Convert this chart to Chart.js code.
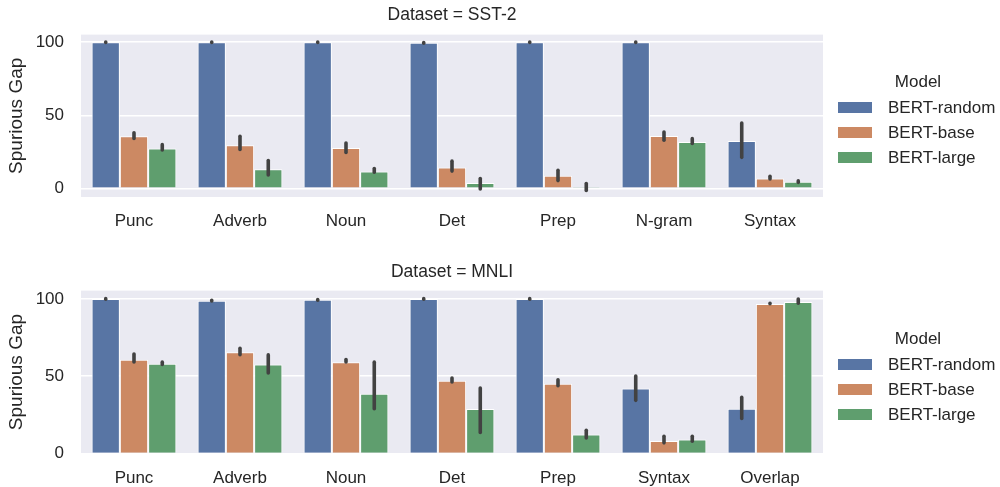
<!DOCTYPE html>
<html>
<head>
<meta charset="utf-8">
<script src="https://cdn.jsdelivr.net/npm/chart.js@4/dist/chart.umd.min.js"></script>
<style>
    body { margin: 0; background: #fff; }
    #wrap { position: relative; width: 1000px; height: 487px; font-family: 'Liberation Sans', Arial, sans-serif; color: #262626; }
    .panel { position: absolute; left: 0; width: 1000px; }
    .legend { position: absolute; left: 838px; font-size: 17px; line-height: 20px; }
    .legend-title { position: absolute; left: 55px; width: 50px; text-align: center; white-space: nowrap; }
    .legend-row { position: absolute; left: 0; white-space: nowrap; }
    .legend-row span { display: inline-block; width: 34px; height: 11px; margin-right: 16px; vertical-align: middle; }
    .legend-row b { font-weight: normal; vertical-align: middle; }
</style>
</head>
<body>
<div id="wrap">
    <div class="panel" style="top:0;height:245px"><canvas id="sst-chart" width="1000" height="245"></canvas></div>
    <div class="panel" style="top:245px;height:242px"><canvas id="mnli-chart" width="1000" height="242"></canvas></div>
    <div class="legend" id="sst-legend" style="top:72px"></div>
    <div class="legend" id="mnli-legend" style="top:329px"></div>
</div>
<script>
const models = ['BERT-random', 'BERT-base', 'BERT-large'];
const modelColors = ['#5875a4', '#cc8963', '#5f9e6e'];
const yTicks = [0, 50, 100];

// SST-2
const sstCategories = ['Punc', 'Adverb', 'Noun', 'Det', 'Prep', 'N-gram', 'Syntax'];
const sstRandom = [100, 100, 100, 99.6, 100, 100, 32.4];
const sstRandomLo = [99.8, 99.8, 99.8, 99.4, 99.8, 99.8, 21.2];
const sstRandomHi = [100.2, 100.2, 100.2, 99.8, 100.2, 100.2, 44.7];
const sstBase = [35.7, 29.5, 27.7, 14.3, 8.6, 35.9, 6.8];
const sstBaseLo = [34.1, 26.6, 24.6, 11.8, 5.3, 33, 6.4];
const sstBaseHi = [38.1, 35.6, 31, 18.6, 12.4, 38.5, 8.3];
const sstLarge = [27.3, 13, 11.6, 3.6, 0.9, 31.8, 4.5];
const sstLargeLo = [26.2, 9.1, 11, -0.4, -1.5, 30.7, 4.1];
const sstLargeHi = [29.9, 19, 13.5, 6.7, 3.3, 34, 5.1];

// MNLI
const mnliCategories = ['Punc', 'Adverb', 'Noun', 'Det', 'Prep', 'Syntax', 'Overlap'];
const mnliRandom = [100, 98.9, 99.4, 100, 100, 42.1, 29];
const mnliRandomLo = [99.8, 98.7, 99.2, 99.8, 99.8, 34.4, 22.6];
const mnliRandomHi = [100.2, 99.1, 99.6, 100.2, 100.2, 50.1, 36.3];
const mnliBase = [60.6, 65.5, 59.1, 47.1, 45.2, 8.1, 96.8];
const mnliBaseLo = [59.2, 63.9, 59.2, 46.3, 43.9, 6.9, 96.9];
const mnliBaseHi = [64.4, 68.1, 60.8, 48.8, 47.7, 11.2, 97.2];
const mnliLarge = [58.1, 57.6, 38.7, 28.8, 12.3, 9, 98.1];
const mnliLargeLo = [57.6, 52.1, 29, 13.6, 10.1, 7.9, 97.2];
const mnliLargeHi = [59.1, 63.8, 59.1, 42.3, 15, 11.2, 99.9];

Chart.defaults.font.family = "'Liberation Sans', Arial, sans-serif";
Chart.defaults.font.size = 17;
Chart.defaults.color = '#262626';

class SPURIOUSPANEL {
    constructor(canvasId, legendId, settings) {
        this.$canvas = document.getElementById(canvasId);
        this.$legend = document.getElementById(legendId);
        this.settings = settings;
        this.init();
    }

    init() {
        this.drawLegend();
        this.drawChart();
    }

    drawLegend() {
        let html = '<div class="legend-title" style="top:0">Model</div>';
        models.forEach((name, i) => {
            html += `<div class="legend-row" style="top:${25 + i * 25}px"><span style="background:${modelColors[i]}"></span><b>${name}</b></div>`;
        });
        this.$legend.innerHTML = html;
    }

    // grey axes background
    backgroundPlugin = {
        id: 'axesBackground',
        beforeDraw: (chart) => {
            const { ctx, chartArea } = chart;
            ctx.save();
            ctx.fillStyle = '#eaeaf2';
            ctx.fillRect(chartArea.left, chartArea.top, chartArea.right - chartArea.left, chartArea.bottom - chartArea.top);
            ctx.restore();
        }
    };

    // confidence interval lines on top of the bars
    errorBarPlugin = {
        id: 'errorBars',
        afterDatasetsDraw: (chart) => {
            const { ctx } = chart;
            const yScale = chart.scales.y;
            ctx.save();
            ctx.strokeStyle = '#424242';
            ctx.lineWidth = 3.6;
            ctx.lineCap = 'round';
            chart.data.datasets.forEach((ds, i) => {
                chart.getDatasetMeta(i).data.forEach((bar, j) => {
                    ctx.beginPath();
                    ctx.moveTo(bar.x, yScale.getPixelForValue(ds.errLo[j]));
                    ctx.lineTo(bar.x, yScale.getPixelForValue(ds.errHi[j]));
                    ctx.stroke();
                });
            });
            ctx.restore();
        }
    };

    drawChart() {
        const s = this.settings;
        new Chart(this.$canvas.getContext('2d'), {
            type: 'bar',
            data: {
                labels: s.categories,
                datasets: models.map((name, i) => ({
                    label: name,
                    data: s.values[i],
                    errLo: s.lo[i],
                    errHi: s.hi[i],
                    backgroundColor: modelColors[i],
                    borderColor: '#ffffff',
                    borderWidth: 1,
                    categoryPercentage: 0.8,
                    barPercentage: 1.0
                }))
            },
            options: {
                responsive: false,
                animation: false,
                layout: { padding: { left: 0, right: 177, top: 0, bottom: 0 } },
                plugins: {
                    legend: { display: false },
                    tooltip: { enabled: false },
                    title: {
                        display: true,
                        fullSize: false,
                        text: s.title,
                        color: '#262626',
                        font: { size: 17.5, weight: 'normal', lineHeight: 1.2 },
                        padding: s.titlePadding
                    }
                },
                scales: {
                    x: {
                        grid: { display: false, drawTicks: false },
                        border: { display: false },
                        ticks: { padding: 16, font: { size: 17, lineHeight: 1 }, color: '#262626' },
                        afterFit: (scale) => { scale.height = s.xHeight; }
                    },
                    y: {
                        min: s.yMin,
                        max: s.yMax,
                        grid: { color: '#ffffff', lineWidth: 1.6, drawTicks: false },
                        border: { display: false },
                        ticks: { padding: 17, font: { size: 17 }, color: '#262626' },
                        afterBuildTicks: (scale) => { scale.ticks = yTicks.map(v => ({ value: v })); },
                        title: {
                            display: true,
                            text: 'Spurious Gap',
                            color: '#262626',
                            font: { size: 19, lineHeight: 1.2 },
                            padding: { top: 5, bottom: 0 }
                        },
                        afterFit: (scale) => { scale.width = 81; }
                    }
                }
            },
            plugins: [this.backgroundPlugin, this.errorBarPlugin]
        });
    }
}

new SPURIOUSPANEL('sst-chart', 'sst-legend', {
    title: 'Dataset = SST-2',
    categories: sstCategories,
    values: [sstRandom, sstBase, sstLarge],
    lo: [sstRandomLo, sstBaseLo, sstLargeLo],
    hi: [sstRandomHi, sstBaseHi, sstLargeHi],
    yMin: -5.93,
    yMax: 105.25,
    titlePadding: { top: 5, bottom: 8.6 },
    xHeight: 48
});

new SPURIOUSPANEL('mnli-chart', 'mnli-legend', {
    title: 'Dataset = MNLI',
    categories: mnliCategories,
    values: [mnliRandom, mnliBase, mnliLarge],
    lo: [mnliRandomLo, mnliBaseLo, mnliLargeLo],
    hi: [mnliRandomHi, mnliBaseHi, mnliLargeHi],
    yMin: 0,
    yMax: 105.4,
    titlePadding: { top: 16.8, bottom: 7.8 },
    xHeight: 33.5
});
</script>
</body>
</html>
